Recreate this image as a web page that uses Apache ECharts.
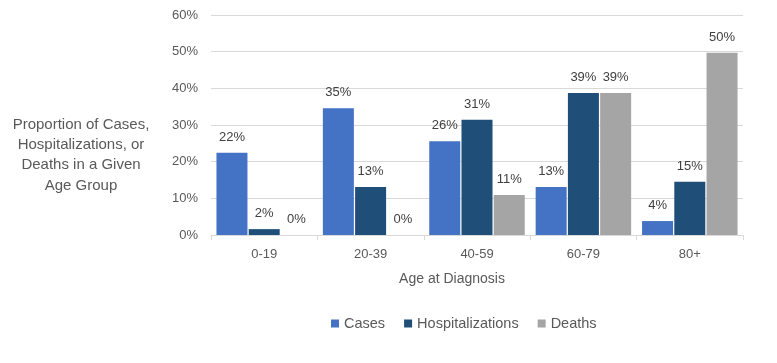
<!DOCTYPE html>
<html><head><meta charset="utf-8">
<script src="https://cdn.jsdelivr.net/npm/echarts@6/dist/echarts.min.js"></script>
<style>html,body{margin:0;padding:0;background:#fff}#c{width:777px;height:363px}</style>
</head><body><div id="c"></div>
<script>
const categories = ['0-19','20-39','40-59','60-79','80+'];
const cases = [22.4, 34.6, 25.6, 13.1, 3.8];
const hospitalizations = [1.6, 13.1, 31.4, 38.7, 14.5];
const deaths = [0, 0, 10.9, 38.7, 49.7];
const yTicks = [0, 10, 20, 30, 40, 50, 60];
const FONT = 'Liberation Sans';

const chart = echarts.init(document.getElementById('c'));
const lbl = {show:true, position:'top', distance:9, color:'#404040', fontSize:13, fontFamily:FONT,
  formatter: p => Math.round(p.value) + '%'};
function ser(name, data, color){
  return {name, type:'bar', data, barWidth:31, barGap:'4%', itemStyle:{color}, label:lbl};
}
chart.setOption({
  animation:false,
  textStyle:{fontFamily:FONT},
  grid:{left:211, right:34, top:15, bottom:128},
  legend:{top:311, left:326, itemWidth:8, itemHeight:8, itemGap:19,
    textStyle:{color:'#595959', fontSize:14.5, fontFamily:FONT},
    data:['Cases','Hospitalizations','Deaths'], icon:'rect'},
  xAxis:{type:'category', data:categories,
    axisLine:{lineStyle:{color:'#D9D9D9'}},
    axisTick:{show:true, length:5, lineStyle:{color:'#D9D9D9'}},
    axisLabel:{color:'#595959', fontSize:13, margin:13, fontFamily:FONT}},
  yAxis:{type:'value', min:yTicks[0], max:yTicks[yTicks.length-1], interval:10,
    axisLine:{show:false}, axisTick:{show:false},
    splitLine:{lineStyle:{color:'#D9D9D9'}},
    axisLabel:{color:'#595959', fontSize:13, margin:13, fontFamily:FONT, formatter:v=>v+'%'}},
  graphic:[
    {type:'text', position:[81,155], style:{text:'Proportion of Cases,\nHospitalizations, or\nDeaths in a Given\nAge Group',
      fill:'#595959', font:'15px "Liberation Sans"', textAlign:'center', textVerticalAlign:'middle', lineHeight:20.3}},
    {type:'text', position:[452,279], style:{text:'Age at Diagnosis', fill:'#595959', font:'14px "Liberation Sans"',
      textAlign:'center', textVerticalAlign:'middle'}}
  ],
  series:[ser('Cases', cases, '#4472C4'), ser('Hospitalizations', hospitalizations, '#1F4E79'), ser('Deaths', deaths, '#A5A5A5')]
});
</script></body></html>
